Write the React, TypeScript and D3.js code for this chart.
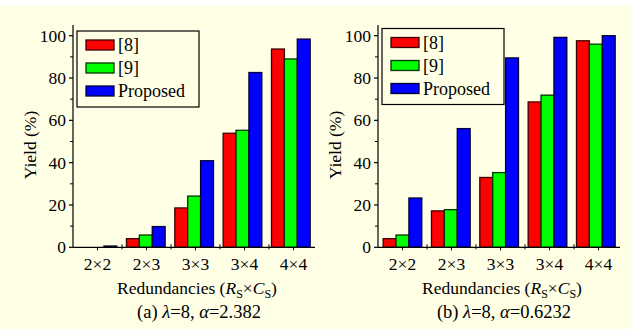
import React from "react";
import * as d3 from "d3";

const categories = ["2×2", "2×3", "3×3", "3×4", "4×4"];
const seriesNames = ["[8]", "[9]", "Proposed"];
const seriesColors = ["#ff0000", "#00ff00", "#0000ff"];
const seriesStroke = ["#3a0000", "#003300", "#000033"];

// panel (a) lambda=8, alpha=2.382
const yieldA_ref8 = [0, 4.1, 18.6, 53.9, 93.7];
const yieldA_ref9 = [0, 5.8, 24.2, 55.3, 89.0];
const yieldA_proposed = [0.6, 9.8, 40.9, 82.6, 98.4];

// panel (b) lambda=8, alpha=0.6232
const yieldB_ref8 = [4.1, 17.2, 33.0, 68.7, 97.6];
const yieldB_ref9 = [5.8, 17.8, 35.3, 71.9, 96.0];
const yieldB_proposed = [23.3, 56.1, 89.5, 99.2, 100];

const yTicks = [0, 20, 40, 60, 80, 100];
const yMinorTicks = [10, 30, 50, 70, 90];

const W = 631;
const H = 329;
const bg = "#ffffe6";
const font = "'Times New Roman', 'Liberation Serif', serif";

type PanelProps = {
  x0: number;
  series: number[][];
  label: string;
  alpha: string;
  legendY: number;
};

const Panel = ({ x0, series, label, alpha, legendY }: PanelProps) => {
  const yScale = d3.scaleLinear().domain([0, 100]).range([247.3, 35.7]);
  const axisEnd = x0 + 242;

  // category positions for bars
  const xBars = d3.scaleBand<string>()
    .domain(categories)
    .range([x0 + 0.3, x0 + 242])
    .paddingInner(0.2)
    .paddingOuter(0.1);
  const xSub = d3.scaleBand<number>()
    .domain([0, 1, 2])
    .range([0, xBars.bandwidth()]);

  // category positions for tick labels
  const xLabels = d3.scaleBand<string>().domain(categories).range([x0, x0 + 245]);
  const y0 = yScale(0);

  return (
    <g>
      {/* bars */}
      {series.map((vals, s) =>
        vals.map((v, i) =>
          v > 0 ? (
            <rect
              key={`b${s}-${i}`}
              x={(xBars(categories[i]) as number) + (xSub(s) as number)}
              y={yScale(v)}
              width={xSub.bandwidth()}
              height={y0 - yScale(v)}
              fill={seriesColors[s]}
              stroke={seriesStroke[s]}
              strokeWidth={1.3}
            />
          ) : null
        )
      )}

      {/* y axis */}
      <line x1={x0} x2={x0} y1={25} y2={y0} stroke="#000" strokeWidth={1.2} />
      {yTicks.map((t) => (
        <g key={`yt${t}`}>
          <line x1={x0 - 4} x2={x0} y1={yScale(t)} y2={yScale(t)} stroke="#000" strokeWidth={1.2} />
          <text
            x={x0 - 7}
            y={yScale(t)}
            dy="0.35em"
            textAnchor="end"
            fontSize={17.5}
            fontFamily={font}
            fill="#000"
          >
            {t}
          </text>
        </g>
      ))}
      {yMinorTicks.map((t) => (
        <line key={`ym${t}`} x1={x0 - 3} x2={x0} y1={yScale(t)} y2={yScale(t)} stroke="#000" strokeWidth={1} />
      ))}

      {/* x axis */}
      <line x1={x0} x2={axisEnd} y1={y0} y2={y0} stroke="#000" strokeWidth={1.2} />
      {categories.map((c, i) => {
        const cx = (xLabels(c) as number) + xLabels.bandwidth() / 2;
        const bx = x0 + i * xLabels.bandwidth();
        return (
          <g key={`xt${c}`}>
            <line x1={cx} x2={cx} y1={y0} y2={y0 + 3} stroke="#000" strokeWidth={1} />
            {i > 0 && <line x1={bx} x2={bx} y1={y0 - 3} y2={y0 + 2} stroke="#000" strokeWidth={1} />}
            <text x={cx} y={270} textAnchor="middle" fontSize={17.5} fontFamily={font} fill="#000">
              {c}
            </text>
          </g>
        );
      })}

      {/* axis titles */}
      <text
        transform={`translate(${x0 - 43},145) rotate(-90)`}
        textAnchor="middle"
        dy="0.35em"
        fontSize={17.5}
        fontFamily={font}
        fill="#000"
      >
        Yield (%)
      </text>
      <text x={x0 + 124} y={294} textAnchor="middle" fontSize={17.5} fontFamily={font} fill="#000">
        Redundancies (<tspan fontStyle="italic">R</tspan>
        <tspan fontSize={12} dy={4}>S</tspan>
        <tspan dy={-4}>×</tspan>
        <tspan fontStyle="italic">C</tspan>
        <tspan fontSize={12} dy={4}>S</tspan>
        <tspan dy={-4}>)</tspan>
      </text>
      <text x={x0 + 126} y={318} textAnchor="middle" fontSize={18.5} fontFamily={font} fill="#000">
        ({label}) <tspan fontStyle="italic">λ</tspan>=8, <tspan fontStyle="italic">α</tspan>={alpha}
      </text>

      {/* legend */}
      <rect x={x0 + 4} y={legendY} width={122} height={76} fill={bg} stroke="#000" strokeWidth={1.2} />
      {seriesNames.map((n, s) => {
        const ry = legendY + 14 + s * 23;
        return (
          <g key={`lg${s}`}>
            <rect
              x={x0 + 13}
              y={ry - 5}
              width={28}
              height={10}
              fill={seriesColors[s]}
              stroke={seriesStroke[s]}
              strokeWidth={1.3}
            />
            <text x={x0 + 45} y={ry} dy="0.35em" fontSize={18} fontFamily={font} fill="#000">
              {n}
            </text>
          </g>
        );
      })}
    </g>
  );
};

const App = () => {
  return (
    <svg
      width={W}
      height={H}
      style={{ position: "absolute", left: 0, top: 0 }}
    >
      <rect x={0} y={0} width={W} height={H} fill={bg} />
      <rect x={0} y={0} width={W} height={5} fill="#fff" />
      <Panel
        x0={73}
        series={[yieldA_ref8, yieldA_ref9, yieldA_proposed]}
        label="a"
        alpha="2.382"
        legendY={31}
      />
      <Panel
        x0={378}
        series={[yieldB_ref8, yieldB_ref9, yieldB_proposed]}
        label="b"
        alpha="0.6232"
        legendY={28.5}
      />
    </svg>
  );
};

export default App;
